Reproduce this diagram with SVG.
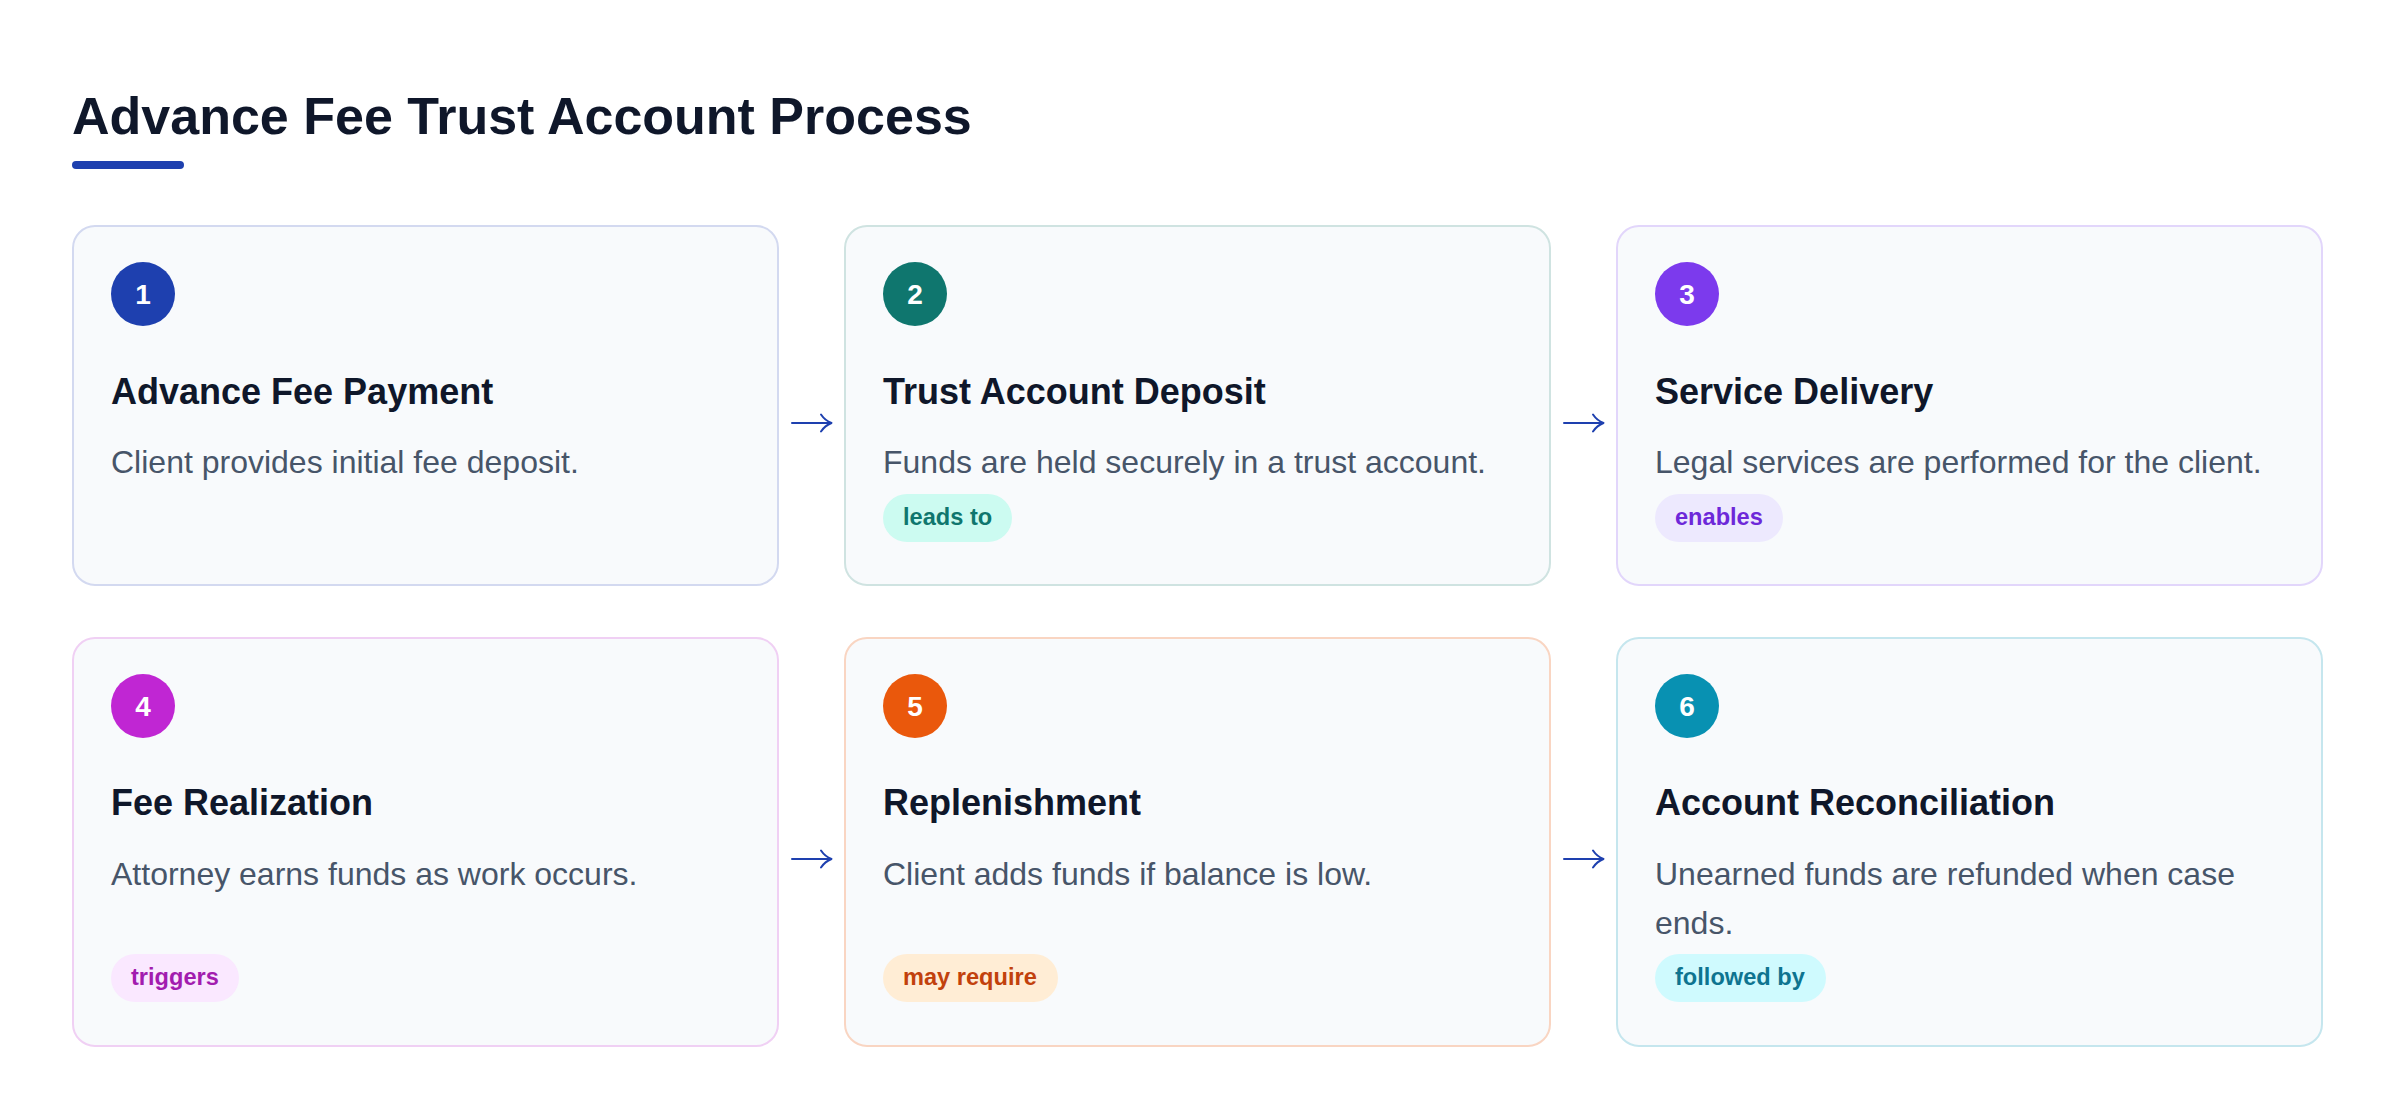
<svg xmlns="http://www.w3.org/2000/svg" width="2400" height="1120" viewBox="0 0 2400 1120">
<style>
text{font-family:"Liberation Sans",Arial,Helvetica,sans-serif}
.title{font-size:52px;font-weight:700;fill:#0f172a}
.card{fill:#f8fafc;stroke-width:2}
.num{font-size:28px;font-weight:700;fill:#ffffff;text-anchor:middle}
.head{font-size:36px;font-weight:700;fill:#0f172a}
.desc{font-size:32px;fill:#475569}
.badge{font-size:23.6px;font-weight:700}
.arrow{fill:none;stroke:#1e40af;stroke-width:2;stroke-linecap:round;stroke-linejoin:round}
</style>
<rect x="0" y="0" width="2400" height="1120" fill="#ffffff"/>
<g id="header">
<text class="title" x="72" y="134">Advance Fee Trust Account Process</text>
<rect x="72" y="161" width="112" height="8" rx="4" fill="#1e40af"/>
</g>
<g id="node-1">
<rect class="card" x="73" y="226" width="705" height="359" rx="22" stroke="#d3d9f0"/>
<circle cx="143" cy="294" r="32" fill="#1e40af"/>
<text class="num" x="143" y="304">1</text>
<text class="head" x="111" y="404">Advance Fee Payment</text>
<text class="desc" x="111" y="473">Client provides initial fee deposit.</text>
</g>
<g id="node-2">
<rect class="card" x="845" y="226" width="705" height="359" rx="22" stroke="#cfe3e1"/>
<circle cx="915" cy="294" r="32" fill="#0f766e"/>
<text class="num" x="915" y="304">2</text>
<text class="head" x="883" y="404">Trust Account Deposit</text>
<text class="desc" x="883" y="473">Funds are held securely in a trust account.</text>
<rect x="883" y="494" width="129" height="48" rx="24" fill="#ccfbf1"/>
<text class="badge" x="903" y="525" fill="#0f766e">leads to</text>
</g>
<g id="node-3">
<rect class="card" x="1617" y="226" width="705" height="359" rx="22" stroke="#e2d6fb"/>
<circle cx="1687" cy="294" r="32" fill="#7c3aed"/>
<text class="num" x="1687" y="304">3</text>
<text class="head" x="1655" y="404">Service Delivery</text>
<text class="desc" x="1655" y="473">Legal services are performed for the client.</text>
<rect x="1655" y="494" width="128" height="48" rx="24" fill="#ede9fe"/>
<text class="badge" x="1675" y="525" fill="#6d28d9">enables</text>
</g>
<g id="node-4">
<rect class="card" x="73" y="638" width="705" height="408" rx="22" stroke="#f0d0f4"/>
<circle cx="143" cy="706" r="32" fill="#c026d3"/>
<text class="num" x="143" y="716">4</text>
<text class="head" x="111" y="815">Fee Realization</text>
<text class="desc" x="111" y="885">Attorney earns funds as work occurs.</text>
<rect x="111" y="954" width="128" height="48" rx="24" fill="#fae8ff"/>
<text class="badge" x="131" y="985" fill="#a21caf">triggers</text>
</g>
<g id="node-5">
<rect class="card" x="845" y="638" width="705" height="408" rx="22" stroke="#f9d5c2"/>
<circle cx="915" cy="706" r="32" fill="#ea580c"/>
<text class="num" x="915" y="716">5</text>
<text class="head" x="883" y="815">Replenishment</text>
<text class="desc" x="883" y="885">Client adds funds if balance is low.</text>
<rect x="883" y="954" width="175" height="48" rx="24" fill="#ffedd5"/>
<text class="badge" x="903" y="985" fill="#c2410c">may require</text>
</g>
<g id="node-6">
<rect class="card" x="1617" y="638" width="705" height="408" rx="22" stroke="#c5e6ee"/>
<circle cx="1687" cy="706" r="32" fill="#0891b2"/>
<text class="num" x="1687" y="716">6</text>
<text class="head" x="1655" y="815">Account Reconciliation</text>
<text class="desc" x="1655" y="885">Unearned funds are refunded when case</text>
<text class="desc" x="1655" y="934">ends.</text>
<rect x="1655" y="954" width="171" height="48" rx="24" fill="#cffafe"/>
<text class="badge" x="1675" y="985" fill="#0e7490">followed by</text>
</g>
<g id="connectors">
<path class="arrow" d="M792,423 H831 M821,414.5 Q825,420.5 831.5,423 Q825,425.5 821,431.5"/>
<path class="arrow" d="M1564,423 H1603 M1593,414.5 Q1597,420.5 1603.5,423 Q1597,425.5 1593,431.5"/>
<path class="arrow" d="M792,859 H831 M821,850.5 Q825,856.5 831.5,859 Q825,861.5 821,867.5"/>
<path class="arrow" d="M1564,859 H1603 M1593,850.5 Q1597,856.5 1603.5,859 Q1597,861.5 1593,867.5"/>
</g>
</svg>
